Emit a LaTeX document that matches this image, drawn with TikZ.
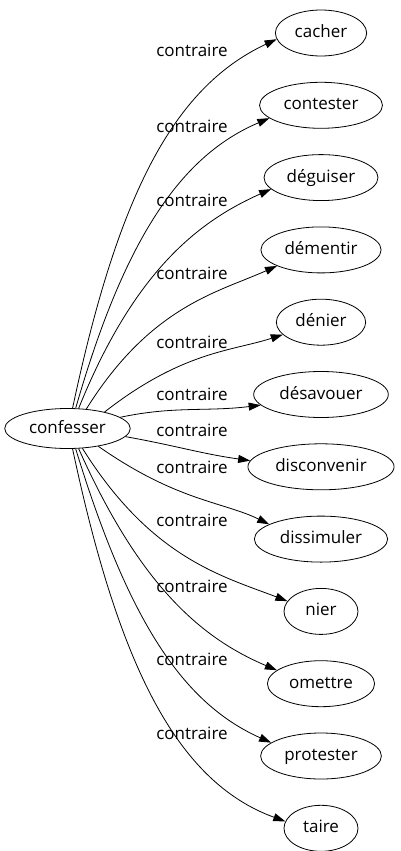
\documentclass[tikz,border=0pt]{standalone}
\usepackage{fontspec}
\setmainfont{Open Sans}
\usepackage{tikz}
\usetikzlibrary{shapes.geometric, arrows.meta, positioning}
\tikzset{
  word/.style={ellipse, draw=black, line width=0.8pt, fill=white, align=center, font=\fontsize{17}{20}\selectfont, text height=13pt, text depth=4pt, inner xsep=6pt, inner ysep=0pt, minimum height=46pt, minimum width=74pt},
  rootword/.style={word, minimum height=40pt},
  lbl/.style={font=\fontsize{17}{20}\selectfont, inner sep=0pt},
  arrow/.style={-{Triangle[length=12pt, width=8pt]}, line width=0.8pt, color=black},
  fan/.style={out looseness=1.3, in looseness=0.7},
}

\begin{document}
\begin{tikzpicture}[x=1pt, y=1pt]
  \useasboundingbox (0,0) rectangle (401,-851);
  \node[rootword] (confesser) at (67.5,-428.5) {confesser};
  \node[word] (cacher) at (321,-33) {cacher};
  \node[word, below=25.5pt of cacher] (contester) {contester};
  \node[word, below=25.5pt of contester] (deguiser) {déguiser};
  \node[word, below=25.5pt of deguiser] (dementir) {démentir};
  \node[word, below=25.5pt of dementir] (denier) {dénier};
  \node[word, below=25.5pt of denier] (desavouer) {désavouer};
  \node[word, below=25.5pt of desavouer] (disconvenir) {disconvenir};
  \node[word, below=25.5pt of disconvenir] (dissimuler) {dissimuler};
  \node[word, below=25.5pt of dissimuler] (nier) {nier};
  \node[word, below=25.5pt of nier] (omettre) {omettre};
  \node[word, below=25.5pt of omettre] (protester) {protester};
  \node[word, below=25.5pt of protester] (taire) {taire};
  % edge labels
  \node[lbl] (l1) at (192,-50) {contraire};
  \node[lbl] (l2) at (192,-126) {contraire};
  \node[lbl] (l3) at (192,-200) {contraire};
  \node[lbl] (l4) at (192,-273) {contraire};
  \node[lbl] (l5) at (192,-342) {contraire};
  \node[lbl] (l6) at (192,-394) {contraire};
  \node[lbl] (l7) at (192,-430) {contraire};
  \node[lbl] (l8) at (192,-467) {contraire};
  \node[lbl] (l9) at (192,-520) {contraire};
  \node[lbl] (l10) at (192,-586) {contraire};
  \node[lbl] (l11) at (192,-659) {contraire};
  \node[lbl] (l12) at (192,-733) {contraire};
  % edges
  \draw[arrow] (confesser.76) to[out=78, in=205, fan] (cacher.188);
  \draw[arrow] (confesser.68) to[out=74, in=203, fan] (contester.194);
  \draw[arrow] (confesser.61) to[out=68, in=204, fan] (deguiser.193);
  \draw[arrow] (confesser.46) to[out=58, in=204, fan] (dementir.200);
  \draw[arrow] (confesser.24) to[out=38, in=198, fan] (denier.198);
  \draw[arrow] (confesser.12) to[out=12, in=187] (desavouer.190);
  \draw[arrow] (confesser.-8) to[out=-10, in=172] (disconvenir.175);
  \draw[arrow] (confesser.-30) to[out=-35, in=154, fan] (dissimuler.164);
  \draw[arrow] (confesser.-53) to[out=-58, in=159, fan] (nier.163);
  \draw[arrow] (confesser.-61) to[out=-66, in=157, fan] (omettre.163);
  \draw[arrow] (confesser.-68) to[out=-73, in=156, fan] (protester.165);
  \draw[arrow] (confesser.-76) to[out=-78, in=160, fan] (taire.169);
\end{tikzpicture}
\end{document}
